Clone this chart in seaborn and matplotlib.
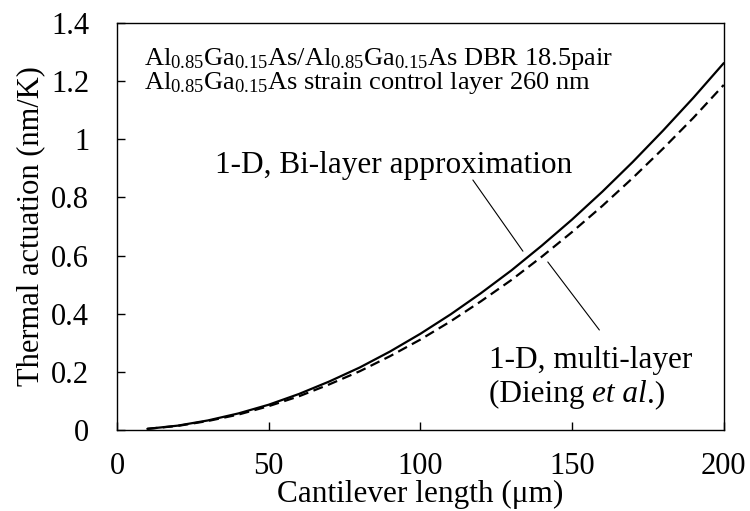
import matplotlib
matplotlib.use("Agg")
import matplotlib.pyplot as plt
import seaborn as sns
import pandas as pd

# Data
length_um = [10, 20, 30, 40, 50, 60, 70, 80, 90, 100, 110, 120, 130, 140, 150, 160, 170, 180, 190, 200]
bilayer = [0.004, 0.015, 0.033, 0.057, 0.087, 0.124, 0.167, 0.215, 0.270, 0.331, 0.398, 0.471, 0.549,
           0.634, 0.724, 0.820, 0.922, 1.030, 1.143, 1.262]
multilayer = [0.004, 0.014, 0.031, 0.053, 0.082, 0.116, 0.157, 0.202, 0.254, 0.311, 0.374, 0.443, 0.516,
              0.596, 0.681, 0.771, 0.867, 0.968, 1.074, 1.187]
series_names = ["1-D, Bi-layer approximation", "1-D, multi-layer (Dieing et al.)"]
x_ticks = [0, 50, 100, 150, 200]
y_ticks = [0, 0.2, 0.4, 0.6, 0.8, 1, 1.2, 1.4]
y_tick_labels = ["0", "0.2", "0.4", "0.6", "0.8", "1", "1.2", "1.4"]

df = pd.DataFrame({
    "length": length_um * 2,
    "value": bilayer + multilayer,
    "model": [series_names[0]] * len(length_um) + [series_names[1]] * len(length_um),
})

sns.set_theme(style="white")
plt.rcParams["font.family"] = ["Liberation Serif", "DejaVu Serif"]
plt.rcParams["mathtext.fontset"] = "custom"
plt.rcParams["mathtext.rm"] = "Liberation Serif"
plt.rcParams["mathtext.it"] = "Liberation Serif:italic"

fig = plt.figure(figsize=(7.5, 5.11), dpi=100)
ax = fig.add_axes([0.156, 0.1585, 0.809, 0.7965])

sns.lineplot(data=df, x="length", y="value", style="model", color="black",
             dashes={series_names[0]: "", series_names[1]: (4.5, 2.5)},
             linewidth=1.6, legend=False, ax=ax)

ax.set_xlim(0, 200)
ax.set_ylim(0, 1.4)
ax.set_xticks(x_ticks)
ax.set_yticks(y_ticks)
ax.set_yticklabels(y_tick_labels)
ax.tick_params(axis="both", direction="in", length=6, width=1, color="black",
               labelsize=22, labelcolor="black", bottom=True, left=True)
ax.tick_params(axis="y", pad=20)
ax.tick_params(axis="x", pad=16)
for s in ax.spines.values():
    s.set_visible(True)
    s.set_color("black")
    s.set_linewidth(1.0)

ax.set_xlabel("Cantilever length (\u03bcm)", fontsize=22.5, color="black", labelpad=-1)
ax.set_ylabel("Thermal actuation (nm/K)", fontsize=22, color="black", labelpad=4)

ax.text(9.0, 1.257, r"Al$_{0.85}$Ga$_{0.15}$As/Al$_{0.85}$Ga$_{0.15}$As DBR 18.5pair",
        fontsize=19, va="baseline", ha="left", color="black")
ax.text(9.0, 1.172, r"Al$_{0.85}$Ga$_{0.15}$As strain control layer 260 nm",
        fontsize=19, va="baseline", ha="left", color="black")

ax.text(32.3, 0.91, "1-D, Bi-layer approximation", fontsize=22.5, va="center", ha="left", color="black")
ax.plot([117.3, 133.8], [0.86, 0.615], color="black", linewidth=0.8)

ax.text(122.5, 0.24, "1-D, multi-layer", fontsize=22.5, va="center", ha="left", color="black")

# "(Dieing et al.)" with italic "et al" built from consecutive pieces on one baseline
fig.canvas.draw()
renderer = fig.canvas.get_renderer()
x0 = 122.5
y_base = 0.095
for piece, style in [("(Dieing ", "normal"), ("et al", "italic"), (".)", "normal")]:
    t = ax.text(x0, y_base, piece, fontsize=22.5, va="baseline", ha="left",
                color="black", fontstyle=style)
    bb = t.get_window_extent(renderer=renderer)
    x0 = ax.transData.inverted().transform((bb.x1, bb.y0))[0]
ax.plot([142, 159], [0.578, 0.344], color="black", linewidth=0.8)

fig.savefig("out.png", dpi=100)
